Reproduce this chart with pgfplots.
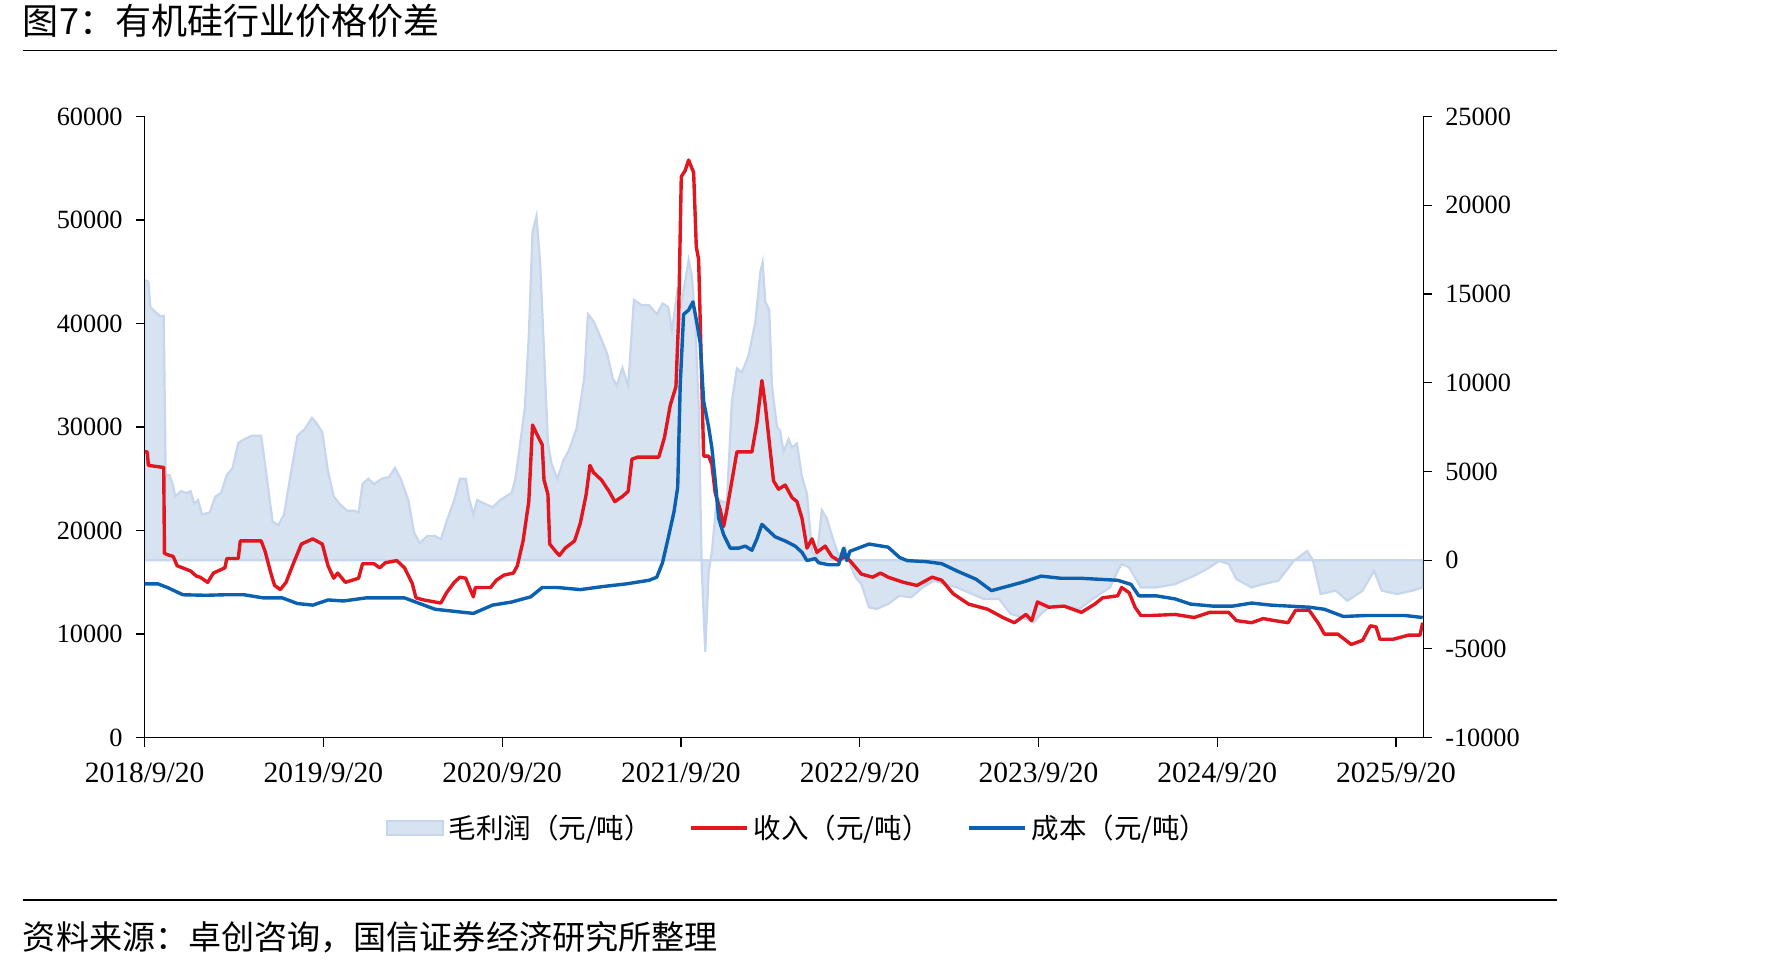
\documentclass[border=0pt]{standalone}
\usepackage{fontspec}
\setmainfont{Liberation Serif}
\newfontfamily\cjk{Noto Sans CJK SC}
\usepackage{pgfplots}
\pgfplotsset{compat=1.18}
\usepackage{pgfplotstable}
\definecolor{redc}{RGB}{225,22,30}
\definecolor{bluec}{RGB}{12,96,176}
\definecolor{areafill}{RGB}{216,227,242}
\definecolor{areaedge}{RGB}{198,214,236}

\pgfplotstableread{
t v
0.000 27600
0.015 27600
0.021 26300
0.107 26100
0.111 17800
0.140 17600
0.160 17500
0.182 16600
0.257 16100
0.290 15600
0.310 15500
0.353 15000
0.385 15900
0.449 16400
0.460 17300
0.524 17300
0.535 19000
0.652 19000
0.674 18000
0.706 15900
0.727 14700
0.759 14300
0.791 15000
0.834 16900
0.877 18700
0.941 19200
0.994 18700
1.026 16600
1.058 15400
1.080 15900
1.123 15000
1.197 15400
1.219 16800
1.283 16800
1.315 16400
1.347 16900
1.411 17100
1.454 16400
1.497 14900
1.518 13500
1.561 13300
1.657 13000
1.689 14000
1.732 15000
1.764 15500
1.796 15400
1.817 14500
1.839 13600
1.850 14500
1.935 14500
1.967 15200
2.010 15700
2.063 15900
2.085 16600
2.117 19000
2.149 22800
2.170 30200
2.192 29400
2.224 28300
2.234 24900
2.256 23500
2.266 18700
2.299 18000
2.320 17600
2.352 18300
2.405 19000
2.437 20700
2.470 23500
2.491 26300
2.512 25600
2.555 24900
2.598 23800
2.630 22800
2.673 23300
2.705 23800
2.726 26900
2.758 27100
2.876 27100
2.908 29000
2.940 32100
2.972 33900
2.987 40500
3.002 54200
3.024 54800
3.043 55800
3.071 54600
3.086 47400
3.099 46200
3.114 36100
3.127 27200
3.155 27200
3.173 26400
3.192 23600
3.220 22000
3.239 20400
3.257 22000
3.285 24800
3.313 27600
3.397 27600
3.425 30400
3.453 34500
3.472 32100
3.490 29200
3.518 24800
3.546 24000
3.583 24400
3.621 23200
3.649 22800
3.677 21200
3.705 18300
3.733 19200
3.760 17900
3.807 18500
3.844 17500
3.882 17100
3.919 17500
3.945 17100
4.009 15800
4.073 15500
4.116 15900
4.159 15500
4.245 15000
4.320 14700
4.405 15500
4.459 15200
4.523 13900
4.609 12900
4.716 12400
4.801 11600
4.865 11100
4.930 11900
4.962 11300
4.994 13100
5.058 12600
5.144 12700
5.240 12100
5.315 12900
5.358 13500
5.443 13700
5.465 14500
5.507 14000
5.540 12600
5.572 11800
5.636 11800
5.764 11900
5.871 11600
5.957 12100
6.064 12100
6.107 11300
6.192 11100
6.257 11500
6.321 11300
6.396 11100
6.438 12300
6.514 12300
6.567 11000
6.599 10000
6.674 10000
6.749 9000
6.813 9400
6.856 10800
6.888 10700
6.910 9500
6.984 9500
7.070 9900
7.134 9900
7.149 11100
}\revenue

\pgfplotstableread{
t v
0.000 14850
0.075 14850
0.128 14500
0.214 13800
0.342 13750
0.449 13800
0.556 13800
0.663 13500
0.770 13500
0.855 12950
0.941 12800
1.026 13300
1.112 13200
1.240 13500
1.368 13500
1.454 13500
1.539 12950
1.625 12400
1.732 12200
1.839 12000
1.946 12800
2.053 13100
2.160 13600
2.224 14500
2.309 14500
2.438 14300
2.566 14600
2.694 14850
2.822 15200
2.865 15500
2.897 16900
2.929 19300
2.961 21800
2.982 24200
2.996 34100
3.015 40900
3.043 41300
3.067 42100
3.089 40100
3.108 38100
3.127 32500
3.155 30000
3.173 28000
3.192 24800
3.211 21200
3.239 19600
3.276 18300
3.322 18300
3.360 18500
3.397 18100
3.425 19200
3.453 20600
3.490 20000
3.527 19400
3.583 19000
3.639 18500
3.677 17900
3.705 17100
3.751 17300
3.770 16900
3.826 16700
3.882 16700
3.910 18300
3.928 17100
3.945 18000
4.052 18700
4.159 18400
4.223 17400
4.266 17100
4.373 17000
4.459 16800
4.544 16100
4.651 15300
4.737 14200
4.801 14500
4.908 15000
5.015 15600
5.122 15400
5.229 15400
5.336 15300
5.443 15200
5.518 14800
5.561 13700
5.657 13700
5.764 13400
5.850 12900
5.978 12700
6.085 12700
6.192 13000
6.299 12800
6.406 12700
6.514 12600
6.599 12400
6.706 11700
6.834 11800
6.942 11800
7.049 11800
7.149 11600
}\cost

\pgfplotstableread{
t v
0.000 15780
0.021 15700
0.032 14270
0.053 14060
0.086 13760
0.107 13760
0.118 4800
0.139 4800
0.160 4190
0.171 3590
0.203 3890
0.235 3790
0.257 3890
0.278 3180
0.299 3390
0.321 2580
0.364 2680
0.396 3590
0.428 3790
0.460 4800
0.492 5200
0.524 6610
0.556 6810
0.599 7010
0.652 7010
0.674 5400
0.716 2180
0.748 1970
0.780 2580
0.813 4590
0.855 7010
0.898 7420
0.936 8020
0.962 7720
0.994 7210
1.026 5000
1.058 3590
1.090 3180
1.133 2780
1.176 2780
1.197 2680
1.219 4290
1.251 4590
1.283 4290
1.326 4590
1.368 4690
1.400 5200
1.432 4590
1.475 3390
1.507 1570
1.539 970
1.582 1370
1.625 1370
1.657 1170
1.689 2180
1.732 3390
1.764 4590
1.796 4590
1.817 3390
1.839 2580
1.860 3390
1.903 3180
1.946 2980
1.989 3390
2.053 3790
2.074 4590
2.096 6210
2.127 8620
2.149 12650
2.170 18500
2.192 19400
2.213 16680
2.234 11850
2.256 6610
2.277 5400
2.309 4590
2.342 5600
2.374 6210
2.416 7420
2.459 10240
2.480 13860
2.512 13460
2.555 12450
2.587 11650
2.619 10240
2.641 9830
2.673 10840
2.705 9830
2.737 14670
2.780 14370
2.822 14370
2.865 13860
2.897 14470
2.929 14270
2.950 12930
2.978 15040
2.996 14100
3.024 15750
3.043 16920
3.062 15980
3.080 13400
3.099 8700
3.117 -700
3.136 -5170
3.155 -700
3.173 470
3.201 3530
3.229 3290
3.257 3290
3.285 8930
3.313 10810
3.341 10580
3.378 11520
3.416 13400
3.444 16220
3.457 16800
3.472 14570
3.494 14100
3.509 9870
3.537 7520
3.555 7290
3.574 6110
3.602 6820
3.621 6350
3.649 6580
3.677 4700
3.705 3760
3.733 470
3.760 240
3.788 2820
3.816 2350
3.844 1410
3.882 240
3.919 700
3.947 -240
3.975 -940
4.009 -1350
4.052 -2660
4.095 -2750
4.159 -2470
4.223 -2000
4.287 -2100
4.352 -1540
4.416 -1160
4.480 -1350
4.544 -1540
4.630 -1910
4.694 -2190
4.780 -2190
4.844 -3030
4.908 -3220
4.972 -3500
5.015 -3030
5.058 -2660
5.144 -2570
5.229 -2750
5.315 -2100
5.400 -1540
5.443 -600
5.465 -220
5.507 -410
5.572 -1540
5.657 -1540
5.764 -1350
5.871 -880
5.957 -410
6.010 -40
6.064 -220
6.107 -1070
6.192 -1540
6.257 -1350
6.342 -1160
6.428 -40
6.503 520
6.535 0
6.578 -1910
6.663 -1720
6.728 -2290
6.813 -1720
6.877 -600
6.920 -1720
7.006 -1910
7.092 -1720
7.149 -1540
}\profit

\pgfplotsset{
  common/.style={
    at={(72.3bp,115.2bp)}, anchor=south west,
    scale only axis, width=639.3bp, height=310.5bp,
    xmin=0, xmax=7.152,
    tick align=outside, major tick length=4.5bp,
    every tick/.style={black, line width=0.6bp},
    axis line style={black, line width=0.6bp},
    scaled y ticks=false,
    /pgf/number format/.cd, 1000 sep={}, assume math mode=true,
  },
}

\begin{document}
\begin{tikzpicture}
\useasboundingbox (0,0) rectangle (885.5bp,484bp);
\node[anchor=west,inner sep=0pt,font=\cjk\fontsize{18.1}{21}\selectfont] at (11.3bp,473.5bp) {图7：有机硅行业价格价差};
\draw[line width=0.7bp] (11.3bp,458.6bp) -- (778.3bp,458.6bp);
\draw[line width=0.7bp] (11.3bp,34bp) -- (778.3bp,34bp);
\node[anchor=west,inner sep=0pt,font=\cjk\fontsize{16.6}{19}\selectfont] at (11.3bp,15.5bp) {资料来源：卓创咨询，国信证券经济研究所整理};

\begin{axis}[common,
  ymin=-10000, ymax=25000,
  axis x line=none, axis y line*=right,
  ytick={-10000,-5000,0,5000,10000,15000,20000,25000},
  yticklabel style={font=\fontsize{13.2}{15}\selectfont, anchor=west, xshift=3bp},
]
\addplot[fill=areafill, draw=areaedge, line width=1.1bp] table[x=t,y=v] {\profit} \closedcycle;
\end{axis}

\begin{axis}[common,
  ymin=0, ymax=60000,
  axis x line*=bottom, axis y line*=left,
  xtick={0,1,2,3,4,5,6,7},
  xticklabels={2018/9/20,2019/9/20,2020/9/20,2021/9/20,2022/9/20,2023/9/20,2024/9/20,2025/9/20},
  ytick={0,10000,20000,30000,40000,50000,60000},
  yticklabel style={font=\fontsize{13.2}{15}\selectfont, anchor=east, xshift=-3bp},
  xticklabel style={font=\fontsize{14.8}{17}\selectfont, anchor=north, yshift=-4.5bp},
  legend columns=3,
  legend style={at={(0.512,-0.1456)}, anchor=center, draw=none, fill=none,
    font=\cjk\fontsize{13.8}{16}\selectfont,
    /tikz/every even column/.append style={column sep=16bp},
    nodes={inner sep=2.5bp}},
]
\addlegendimage{legend image code/.code={\draw[fill=areafill,draw=areaedge,line width=0.8bp] (0bp,-3.4bp) rectangle (28bp,3.4bp);}}
\addlegendentry{毛利润（元/吨）}
\addplot[redc, line width=1.7bp, line join=round, legend image code/.code={\draw[redc,line width=2bp] (0bp,0bp) -- (28bp,0bp);}] table[x=t,y=v] {\revenue};
\addlegendentry{收入（元/吨）}
\addplot[bluec, line width=1.7bp, line join=round, legend image code/.code={\draw[bluec,line width=2bp] (0bp,0bp) -- (28bp,0bp);}] table[x=t,y=v] {\cost};
\addlegendentry{成本（元/吨）}
\end{axis}
\end{tikzpicture}
\end{document}
